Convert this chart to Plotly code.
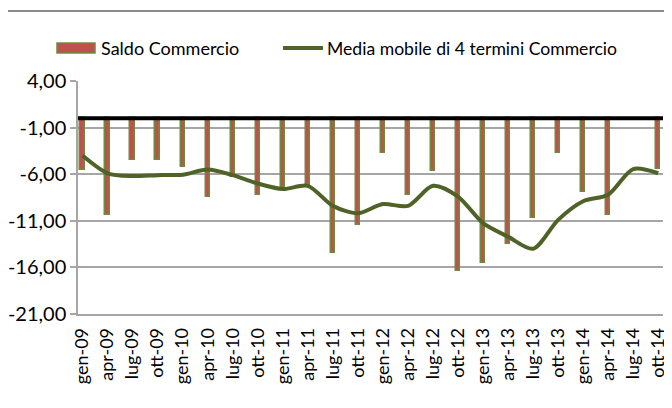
import plotly.graph_objects as go

# ---- data ----
categories = ["gen-09", "apr-09", "lug-09", "ott-09", "gen-10", "apr-10", "lug-10", "ott-10",
              "gen-11", "apr-11", "lug-11", "ott-11", "gen-12", "apr-12", "lug-12", "ott-12",
              "gen-13", "apr-13", "lug-13", "ott-13", "gen-14", "apr-14", "lug-14", "ott-14"]
saldo = [-5.5, -10.4, -4.5, -4.5, -5.2, -8.4, -6.3, -8.2,
         -7.5, -7.2, -14.5, -11.4, -3.7, -8.2, -5.7, -16.4,
         -15.5, -13.5, -10.7, -3.7, -7.9, -10.4, None, -5.4]
media_mobile = [-4.0, -5.9, -6.2, -6.1, -6.05, -5.5, -6.1, -7.0,
                -7.6, -7.25, -9.4, -10.2, -9.2, -9.4, -7.25, -8.4,
                -11.25, -12.7, -14.0, -10.9, -8.9, -8.2, -5.45, -5.9]
ytick_vals = [4, -1, -6, -11, -16, -21]
ytick_text = ["4,00", "-1,00", "-6,00", "-11,00", "-16,00", "-21,00"]
legend_names = ["Saldo Commercio", "Media mobile di 4 termini Commercio"]

RED = "#C0504D"
GREEN_EDGE = "#6E8B3D"
GREEN_LINE = "#4F6228"
GRID = "#A6A6A6"
FONT = "Lato, Carlito, Calibri, sans-serif"

# page has an 8px body margin: figure is drawn 8px in from the window edge
OFF = 8
W, H = 672 - OFF, 408 - OFF
L, R, T, B = 78 - OFF, 672 - 663, 81 - OFF, 408 - 314
pw, ph = W - L - R, H - T - B

def px_x(px):  # window pixel -> paper x
    return (px - OFF - L) / pw

def px_y(py):  # window pixel -> paper y
    return (H - B - (py - OFF)) / ph

x = list(range(len(categories)))

fig = go.Figure()
fig.add_trace(go.Bar(
    x=x, y=saldo, name=legend_names[0], width=0.17,
    marker=dict(color=RED, line=dict(color=GREEN_EDGE, width=1.5)),
    showlegend=False,
))
fig.add_trace(go.Scatter(
    x=x, y=media_mobile, name=legend_names[1], mode="lines",
    line=dict(color=GREEN_LINE, width=4, shape="spline", smoothing=0.8),
    showlegend=False,
))

shapes = [
    # zero line
    dict(type="line", xref="paper", yref="y", x0=0, x1=1, y0=0, y1=0,
         line=dict(color="#000000", width=4), layer="above"),
    # top border line
    dict(type="line", xref="paper", yref="paper", x0=px_x(0), x1=px_x(672), y0=px_y(11), y1=px_y(11),
         line=dict(color="#8C8C8C", width=2)),
    # legend symbols
    dict(type="rect", xref="paper", yref="paper", x0=px_x(57), x1=px_x(95), y0=px_y(43), y1=px_y(53),
         fillcolor=RED, line=dict(color=GREEN_EDGE, width=1.5)),
    dict(type="line", xref="paper", yref="paper", x0=px_x(283), x1=px_x(323), y0=px_y(48), y1=px_y(48),
         line=dict(color=GREEN_LINE, width=4)),
]
annotations = [
    dict(xref="paper", yref="paper", x=px_x(99), y=px_y(48), text=legend_names[0], showarrow=False,
         xanchor="left", yanchor="middle", font=dict(family=FONT, size=18, color="#000")),
    dict(xref="paper", yref="paper", x=px_x(325), y=px_y(48), text=legend_names[1], showarrow=False,
         xanchor="left", yanchor="middle", font=dict(family=FONT, size=17.6, color="#000")),
]

fig.update_layout(
    width=W, height=H,
    margin=dict(l=L, r=R, t=T, b=B, pad=0, autoexpand=False),
    paper_bgcolor="white", plot_bgcolor="white",
    font=dict(family=FONT, color="#000"),
    shapes=shapes, annotations=annotations,
    showlegend=False,
    bargap=0,
)
fig.update_xaxes(
    range=[-0.18, 23.19], tickmode="array", tickvals=x, ticktext=categories,
    tickangle=-90, tickfont=dict(family=FONT, size=18),
    showgrid=False, zeroline=False, showline=True, linecolor=GRID, linewidth=1.5,
    ticks="", ticklen=0, ticklabelstandoff=5,
)
fig.update_yaxes(
    range=[-21, 4], tickmode="array", tickvals=ytick_vals, ticktext=ytick_text,
    tickfont=dict(family=FONT, size=20),
    showgrid=True, gridcolor=GRID, gridwidth=1.5, zeroline=False,
    showline=True, linecolor=GRID, linewidth=1.5,
    ticks="outside", ticklen=6, tickcolor=GRID, tickwidth=1.5,
)

fig.write_html("out.html")
